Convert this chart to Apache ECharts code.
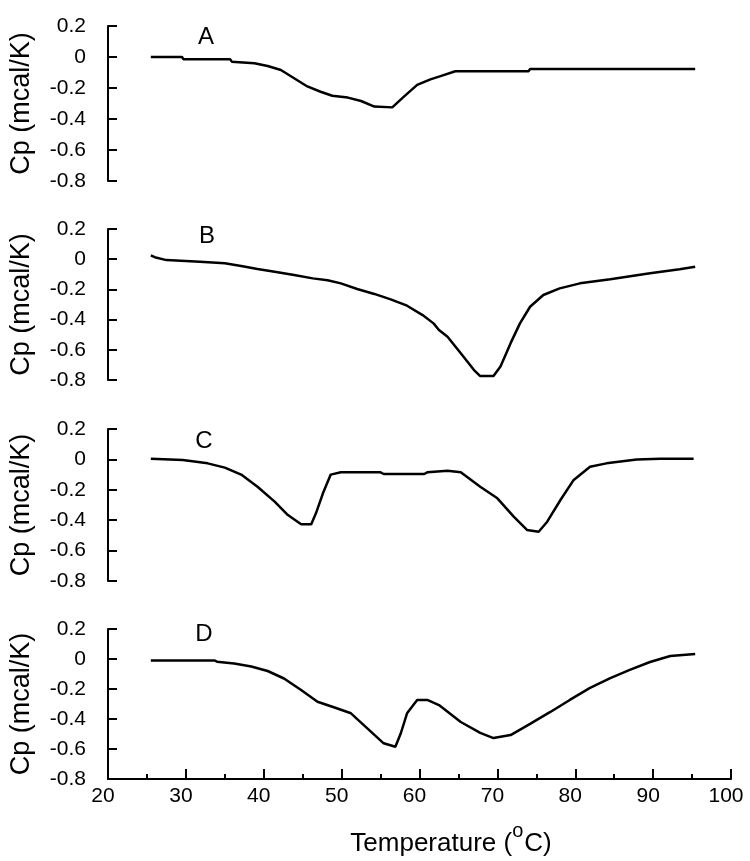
<!DOCTYPE html>
<html>
<head>
<meta charset="utf-8">
<script src="https://cdn.jsdelivr.net/npm/echarts@6/dist/echarts.min.js"></script>
<style>html,body{margin:0;padding:0;background:#fff;}#chart{width:750px;height:861px;}</style>
</head>
<body>
<div id="chart"></div>
<script>
// ---- data ----
var panelLabels = ['A', 'B', 'C', 'D'];
var xTicks = [20, 30, 40, 50, 60, 70, 80, 90, 100];
var yTicks = [0.2, 0, -0.2, -0.4, -0.6, -0.8];
var xTitleParts = ['Temperature (', 'o', 'C)'];
var yTitle = 'Cp (mcal/K)';

var tempA = [25.5, 29.5, 29.7, 35.7, 35.9, 38.8, 40.5, 42.2, 43.9, 45.6, 47.3, 48.8, 50.8, 52.5, 54.2, 56.5, 58.0, 59.7, 61.4, 62.7, 64.6, 74.0, 74.2, 95.4];
var cpA   = [0.0, 0.0, -0.015, -0.015, -0.03, -0.04, -0.058, -0.084, -0.137, -0.19, -0.224, -0.25, -0.262, -0.284, -0.32, -0.325, -0.256, -0.18, -0.144, -0.123, -0.092, -0.092, -0.078, -0.078];

var tempB = [25.5, 26.0, 27.5, 31.8, 35.0, 37.1, 39.2, 41.4, 43.9, 46.3, 48.2, 49.9, 52.0, 54.2, 56.3, 58.4, 60.4, 61.8, 62.5, 63.6, 65.3, 67.0, 67.8, 69.5, 70.4, 71.7, 72.9, 74.2, 75.9, 78.0, 80.6, 84.5, 89.6, 93.4, 95.4];
var cpB   = [0.025, 0.013, -0.006, -0.017, -0.027, -0.045, -0.065, -0.083, -0.105, -0.127, -0.139, -0.16, -0.197, -0.23, -0.266, -0.308, -0.37, -0.425, -0.469, -0.513, -0.623, -0.734, -0.774, -0.774, -0.71, -0.556, -0.425, -0.315, -0.237, -0.193, -0.16, -0.133, -0.093, -0.067, -0.05];

var tempC = [25.5, 29.6, 32.8, 35.0, 37.1, 39.2, 41.4, 43.1, 44.8, 46.1, 46.7, 47.6, 48.6, 49.9, 55.0, 55.4, 60.6, 61.0, 63.6, 65.3, 67.8, 70.0, 72.1, 73.8, 75.3, 76.4, 78.1, 79.8, 81.9, 84.0, 87.9, 90.9, 95.2];
var cpC   = [0.005, -0.004, -0.026, -0.054, -0.10, -0.18, -0.278, -0.366, -0.427, -0.427, -0.355, -0.223, -0.10, -0.085, -0.085, -0.096, -0.096, -0.085, -0.074, -0.085, -0.18, -0.256, -0.377, -0.464, -0.476, -0.41, -0.267, -0.135, -0.048, -0.026, 0.0, 0.005, 0.005];

var tempD = [25.5, 33.7, 34.0, 36.2, 38.4, 40.5, 42.6, 44.8, 46.9, 49.0, 51.2, 53.3, 55.4, 56.9, 57.6, 58.4, 59.7, 61.0, 62.5, 65.3, 67.8, 69.5, 71.7, 74.2, 76.8, 79.3, 81.9, 84.5, 87.0, 89.6, 92.2, 95.4];
var cpD   = [-0.01, -0.01, -0.018, -0.03, -0.05, -0.08, -0.13, -0.207, -0.285, -0.322, -0.362, -0.462, -0.562, -0.585, -0.495, -0.362, -0.273, -0.273, -0.307, -0.42, -0.493, -0.527, -0.507, -0.433, -0.353, -0.273, -0.193, -0.127, -0.073, -0.02, 0.02, 0.033];

// ---- layout ----
var FONT = 'Liberation Sans, Arial, sans-serif';
var temps = [tempA, tempB, tempC, tempD];
var cps = [cpA, cpB, cpC, cpD];
var gridTops = [26, 229, 429, 629];
var gridHeights = [155, 151, 152, 150];
var letterPos = [[206, 37], [207, 236], [204, 441], [204, 634]];

function zip(xs, ys) { var out = []; for (var i = 0; i < xs.length; i++) out.push([xs[i], ys[i]]); return out; }

var grids = [], xAxes = [], yAxes = [], series = [], graphics = [];
for (var i = 0; i < 4; i++) {
  var last = (i === 3);
  grids.push({ left: 107, right: 19, top: gridTops[i], height: gridHeights[i], containLabel: false });
  xAxes.push({
    gridIndex: i, type: 'value', min: xTicks[0], max: xTicks[xTicks.length - 1], interval: 10,
    show: last,
    axisLine: { show: true, onZero: false, lineStyle: { color: '#000', width: 2 } },
    axisTick: { show: true, inside: true, length: 10, lineStyle: { color: '#000', width: 2 } },
    minorTick: { show: true, splitNumber: 2, length: 5, lineStyle: { color: '#000', width: 2 } },
    splitLine: { show: false },
    axisLabel: { color: '#000', fontSize: 21, fontFamily: FONT, margin: 7, padding: [0, 10, 0, 0] }
  });
  yAxes.push({
    gridIndex: i, type: 'value', min: yTicks[yTicks.length - 1], max: yTicks[0], interval: 0.2,
    axisLine: { show: true, onZero: false, lineStyle: { color: '#000', width: 2 } },
    axisTick: { show: true, inside: true, length: 9, lineStyle: { color: '#000', width: 2 } },
    splitLine: { show: false },
    axisLabel: { color: '#000', fontSize: 21, fontFamily: FONT, margin: 22, padding: [0, 0, 16, 0] },
    name: yTitle, nameLocation: 'middle', nameRotate: 90, nameGap: 73,
    nameTextStyle: { color: '#000', fontSize: 27, fontFamily: FONT }
  });
  series.push({
    type: 'line', xAxisIndex: i, yAxisIndex: i, data: zip(temps[i], cps[i]),
    showSymbol: false, symbol: 'none', smooth: false,
    lineStyle: { color: '#000', width: 2.5 }
  });
  graphics.push({
    type: 'text', x: letterPos[i][0], y: letterPos[i][1],
    style: { text: panelLabels[i], fill: '#000', font: '24px ' + FONT, textAlign: 'center', textVerticalAlign: 'middle' }
  });
}

// x-axis title with a raised "o" (superscript)
var mainFont = '26px ' + FONT, supFont = '20px ' + FONT;
var ctx = document.createElement('canvas').getContext('2d');
ctx.font = mainFont; var w0 = ctx.measureText(xTitleParts[0]).width; var w2 = ctx.measureText(xTitleParts[2]).width;
ctx.font = supFont; var w1 = ctx.measureText(xTitleParts[1]).width;
var totalW = w0 + w1 + 1 + w2;
var cx = 451, startX = cx - totalW / 2;
graphics.push({ type: 'text', x: startX, y: 844, style: { text: xTitleParts[0], fill: '#000', font: mainFont, textAlign: 'left', textVerticalAlign: 'middle' } });
graphics.push({ type: 'text', x: startX + w0, y: 831, style: { text: xTitleParts[1], fill: '#000', font: supFont, textAlign: 'left', textVerticalAlign: 'middle' } });
graphics.push({ type: 'text', x: startX + w0 + w1 + 1, y: 844, style: { text: xTitleParts[2], fill: '#000', font: mainFont, textAlign: 'left', textVerticalAlign: 'middle' } });

var chart = echarts.init(document.getElementById('chart'), null, { renderer: 'canvas' });
chart.setOption({
  animation: false,
  backgroundColor: '#fff',
  grid: grids, xAxis: xAxes, yAxis: yAxes, series: series, graphic: graphics
});
</script>
</body>
</html>
